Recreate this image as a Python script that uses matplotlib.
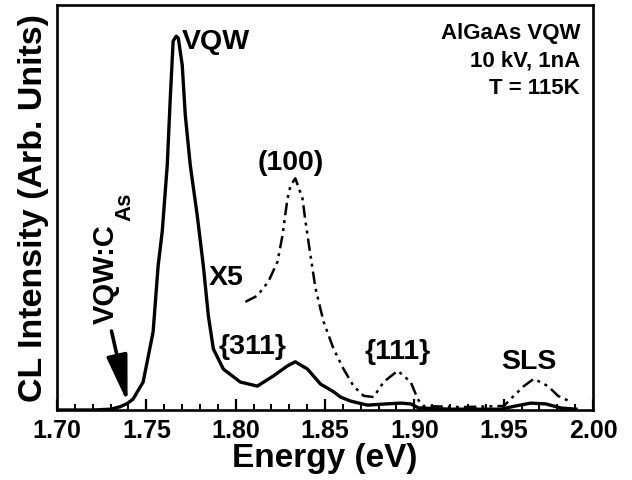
import matplotlib
matplotlib.use("Agg")
import matplotlib.pyplot as plt
from matplotlib.ticker import MultipleLocator

plt.rcParams['font.family'] = ['Liberation Sans', 'DejaVu Sans']
plt.rcParams['font.weight'] = 'bold'

# DATA (arbitrary intensity units)
energy_main = [1.700, 1.720, 1.730, 1.7353, 1.7393, 1.7426, 1.7482, 1.7538, 1.7566,
               1.7589, 1.7617, 1.7634, 1.7650, 1.7667, 1.7679, 1.7701, 1.7718,
               1.7746, 1.7785, 1.7819, 1.7847, 1.7875, 1.7931, 1.8026, 1.8121,
               1.8211, 1.8290, 1.8334, 1.8402, 1.8475, 1.8548, 1.8587, 1.8643,
               1.8738, 1.8839, 1.8924, 1.8980, 1.9024, 1.9203, 1.9483, 1.9568,
               1.9652, 1.9736, 1.9820, 1.9905]
intensity_main = [0.0, 0.0, 0.002, 0.008, 0.016, 0.027, 0.069, 0.193, 0.356,
                  0.441, 0.604, 0.770, 0.911, 0.923, 0.918, 0.851, 0.728,
                  0.604, 0.480, 0.356, 0.233, 0.151, 0.101, 0.069, 0.059,
                  0.084, 0.109, 0.119, 0.101, 0.064, 0.045, 0.032, 0.022,
                  0.012, 0.015, 0.017, 0.015, 0.005, 0.002, 0.002, 0.010,
                  0.017, 0.015, 0.005, 0.002]

energy_x5 = [1.8054, 1.8121, 1.8183, 1.8234, 1.8262, 1.8290, 1.8307, 1.8334,
             1.8374, 1.8391, 1.8419, 1.8447, 1.8492, 1.8548, 1.8604, 1.8660,
             1.8716, 1.8772, 1.8828, 1.8907, 1.8980, 1.9019, 1.9047, 1.9260,
             1.9501, 1.9557, 1.9613, 1.9669, 1.9748, 1.9804, 1.9876]
intensity_x5 = [0.267, 0.282, 0.317, 0.366, 0.431, 0.522, 0.554, 0.572,
                0.522, 0.465, 0.381, 0.300, 0.218, 0.151, 0.101, 0.059,
                0.035, 0.032, 0.069, 0.097, 0.069, 0.027, 0.010, 0.007,
                0.010, 0.035, 0.059, 0.077, 0.059, 0.035, 0.020]

peak_labels = ["VQW", "(100)", "X5", "{311}", "{111}", "SLS"]
peak_pos = [(1.7701, 0.911), (1.8307, 0.612), (1.7948, 0.328),
            (1.8093, 0.158), (1.8907, 0.146), (1.9641, 0.121)]
info_lines = ["AlGaAs VQW", "10 kV, 1nA", "T = 115K"]

fig = plt.figure(figsize=(6.32, 4.81), dpi=100)
ax = fig.add_axes([57 / 632, 70 / 481, 536 / 632, 405 / 481])

ax.plot(energy_main, intensity_main, color='black', lw=2.4)
ax.plot(energy_x5, intensity_x5, color='black', lw=1.8,
        linestyle=(0, (5, 2, 1.2, 2, 1.2, 2)))

ax.set_xlim(1.70, 2.00)
ax.set_ylim(0, 1.0)
ax.xaxis.set_major_locator(MultipleLocator(0.05))
ax.xaxis.set_minor_locator(MultipleLocator(0.01))
ax.set_yticks([])
ax.tick_params(axis='x', which='major', direction='in', length=8, width=1.6,
               labelsize=18, pad=6)
ax.tick_params(axis='x', which='minor', direction='in', length=4, width=1.4)
for sp in ax.spines.values():
    sp.set_linewidth(1.9)
ax.set_xticklabels(["%.2f" % t for t in ax.get_xticks()])

ax.set_xlabel("Energy (eV)", fontsize=24, fontweight='bold', labelpad=0)
ax.set_ylabel("CL Intensity (Arb. Units)", fontsize=24.5, fontweight='bold',
              labelpad=6)

for lab, (x, y) in zip(peak_labels, peak_pos):
    ha = 'left' if lab == "VQW" else 'center'
    ax.text(x, y, lab, fontsize=20.5, fontweight='bold', ha=ha, va='center')

ax.text(0.976, 0.958, "\n".join(info_lines), transform=ax.transAxes,
        fontsize=16, fontweight='bold', ha='right', va='top',
        linespacing=1.42)

# rotated impurity label with subscript
ax.text(1.7275, 0.338, "VQW:C", rotation=90, fontsize=21, fontweight='bold',
        ha='center', va='center')
ax.text(1.7378, 0.505, "As", rotation=90, fontsize=16, fontweight='bold',
        ha='center', va='center')
ax.annotate("", xy=(1.7395, 0.018), xytext=(1.7305, 0.195),
            arrowprops=dict(arrowstyle='-|>,head_length=1.8,head_width=0.4',
                            color='black', lw=2.6, mutation_scale=16,
                            shrinkA=0, shrinkB=0))

fig.savefig("out.png", dpi=100)
